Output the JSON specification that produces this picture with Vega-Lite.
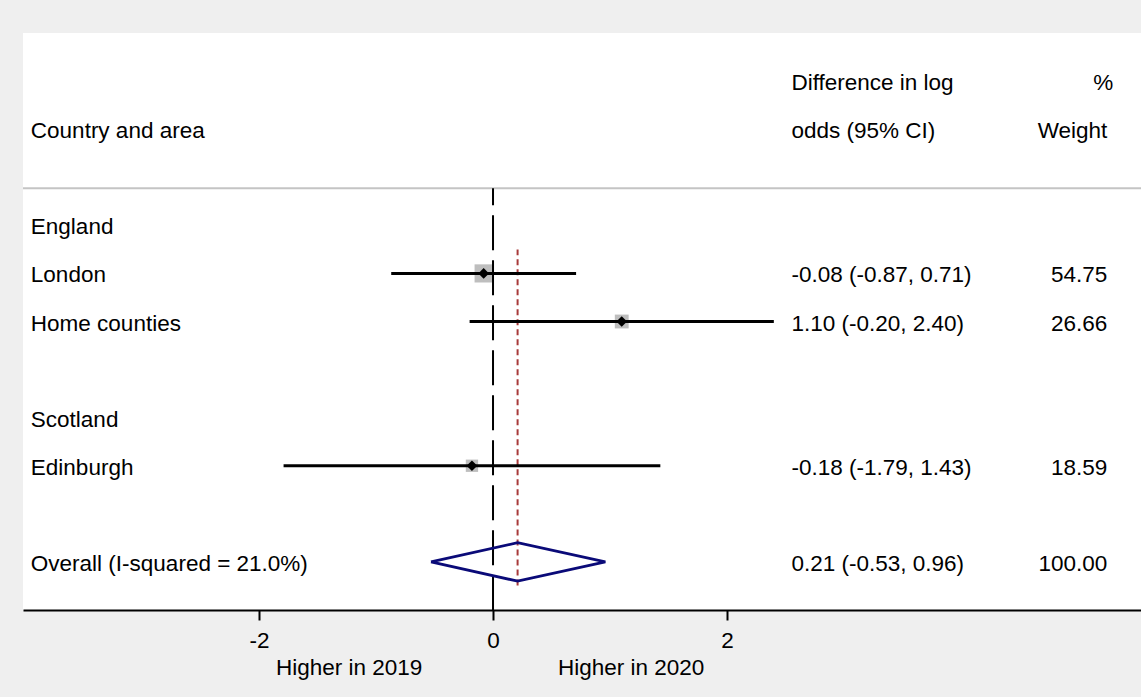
{
  "$schema": "https://vega.github.io/schema/vega-lite/v6.json",
  "width": 1118,
  "height": 577,
  "autosize": {"type": "none"},
  "padding": {"left": 23, "top": 33, "right": 0, "bottom": 87},
  "background": "#EFEFEF",
  "config": {
    "view": {"fill": "white", "stroke": null},
    "font": "Liberation Sans",
    "text": {"font": "Liberation Sans", "fontSize": 22.5, "color": "black", "baseline": "middle", "dy": 2}
  },
  "datasets": {
    "studies": [
      {"area": "London", "row": 1, "est": -0.08, "lo": -0.87, "hi": 0.71, "weight": 54.75, "ci": "-0.08 (-0.87, 0.71)", "wt": "54.75"},
      {"area": "Home counties", "row": 2, "est": 1.10, "lo": -0.20, "hi": 2.40, "weight": 26.66, "ci": "1.10 (-0.20, 2.40)", "wt": "26.66"},
      {"area": "Edinburgh", "row": 5, "est": -0.18, "lo": -1.79, "hi": 1.43, "weight": 18.59, "ci": "-0.18 (-1.79, 1.43)", "wt": "18.59"}
    ],
    "labels": [
      {"text": "Country and area", "row": -2},
      {"text": "England", "row": 0},
      {"text": "London", "row": 1},
      {"text": "Home counties", "row": 2},
      {"text": "Scotland", "row": 4},
      {"text": "Edinburgh", "row": 5},
      {"text": "Overall (I-squared = 21.0%)", "row": 7}
    ],
    "estimates": [
      {"text": "Difference in log", "row": -3},
      {"text": "odds (95% CI)", "row": -2},
      {"text": "-0.08 (-0.87, 0.71)", "row": 1},
      {"text": "1.10 (-0.20, 2.40)", "row": 2},
      {"text": "-0.18 (-1.79, 1.43)", "row": 5},
      {"text": "0.21 (-0.53, 0.96)", "row": 7}
    ],
    "weights": [
      {"text": "Weight", "row": -2},
      {"text": "54.75", "row": 1},
      {"text": "26.66", "row": 2},
      {"text": "18.59", "row": 5},
      {"text": "100.00", "row": 7}
    ],
    "overall": [
      {"i": 0, "x": -0.53, "row": 7},
      {"i": 1, "x": 0.21, "row": 6.6},
      {"i": 2, "x": 0.96, "row": 7},
      {"i": 3, "x": 0.21, "row": 7.4},
      {"i": 4, "x": -0.53, "row": 7}
    ],
    "sides": [
      {"text": "Higher in 2019", "x": -1.23},
      {"text": "Higher in 2020", "x": 1.18}
    ]
  },
  "layer": [
    {
      "data": {"values": [{"row": -0.77}]},
      "mark": {"type": "rule", "color": "#C4C4C4", "strokeWidth": 2},
      "encoding": {
        "y": {"field": "row", "type": "quantitative", "scale": {"domain": [-4, 8], "reverse": true, "nice": false, "zero": false}, "axis": null}
      }
    },
    {
      "data": {"name": "studies"},
      "mark": {"type": "point", "shape": "square", "filled": true, "color": "#BEBEBE", "opacity": 1},
      "encoding": {
        "x": {"field": "est", "type": "quantitative"},
        "y": {"field": "row", "type": "quantitative"},
        "size": {"field": "weight", "type": "quantitative", "scale": {"domain": [0, 54.75], "range": [60, 330], "zero": false}, "legend": null}
      }
    },
    {
      "data": {"values": [{"x": 0, "y1": -0.77, "y2": 8}]},
      "mark": {"type": "rule", "color": "black", "strokeWidth": 2, "strokeDash": [35, 10], "strokeDashOffset": 18},
      "encoding": {
        "x": {"field": "x", "type": "quantitative"},
        "y": {"field": "y1", "type": "quantitative"},
        "y2": {"field": "y2"}
      }
    },
    {
      "data": {"values": [{"x": 0.21, "y1": 0.5, "y2": 7.5}]},
      "mark": {"type": "rule", "color": "#A83A3A", "strokeWidth": 2, "strokeDash": [6, 4]},
      "encoding": {
        "x": {"field": "x", "type": "quantitative"},
        "y": {"field": "y1", "type": "quantitative"},
        "y2": {"field": "y2"}
      }
    },
    {
      "data": {"name": "studies"},
      "mark": {"type": "rule", "color": "black", "strokeWidth": 3},
      "encoding": {
        "x": {
          "field": "lo", "type": "quantitative",
          "scale": {"domain": [-4.017, 5.538], "nice": false, "zero": false},
          "axis": {
            "values": [-2, 0, 2],
            "labelExpr": "'' + datum.value",
            "title": null,
            "grid": false,
            "domainColor": "black",
            "domainWidth": 2,
            "tickColor": "black",
            "tickWidth": 2,
            "tickSize": 10,
            "labelFont": "Liberation Sans",
            "labelFontSize": 22.5,
            "labelColor": "black",
            "labelPadding": 9,
            "labelFlush": false
          }
        },
        "x2": {"field": "hi"},
        "y": {"field": "row", "type": "quantitative"}
      }
    },
    {
      "data": {"name": "studies"},
      "mark": {"type": "point", "shape": "diamond", "filled": true, "color": "black", "size": 115, "opacity": 1},
      "encoding": {
        "x": {"field": "est", "type": "quantitative"},
        "y": {"field": "row", "type": "quantitative"}
      }
    },
    {
      "data": {"name": "overall"},
      "mark": {"type": "line", "color": "#0A0A78", "strokeWidth": 2.8, "strokeJoin": "miter"},
      "encoding": {
        "x": {"field": "x", "type": "quantitative"},
        "y": {"field": "row", "type": "quantitative"},
        "order": {"field": "i", "type": "quantitative"}
      }
    },
    {
      "data": {"name": "labels"},
      "mark": {"type": "text", "align": "left"},
      "encoding": {
        "x": {"datum": -3.95},
        "y": {"field": "row", "type": "quantitative"},
        "text": {"field": "text"}
      }
    },
    {
      "data": {"name": "estimates"},
      "mark": {"type": "text", "align": "left"},
      "encoding": {
        "x": {"datum": 2.55},
        "y": {"field": "row", "type": "quantitative"},
        "text": {"field": "text"}
      }
    },
    {
      "data": {"name": "weights"},
      "mark": {"type": "text", "align": "right"},
      "encoding": {
        "x": {"datum": 5.25},
        "y": {"field": "row", "type": "quantitative"},
        "text": {"field": "text"}
      }
    },
    {
      "data": {"values": [{"text": "%", "row": -3}]},
      "mark": {"type": "text", "align": "right"},
      "encoding": {
        "x": {"datum": 5.3},
        "y": {"field": "row", "type": "quantitative"},
        "text": {"field": "text"}
      }
    },
    {
      "data": {"name": "sides"},
      "mark": {"type": "text", "align": "center"},
      "encoding": {
        "x": {"field": "x", "type": "quantitative"},
        "y": {"datum": 9.17},
        "text": {"field": "text"}
      }
    }
  ]
}
